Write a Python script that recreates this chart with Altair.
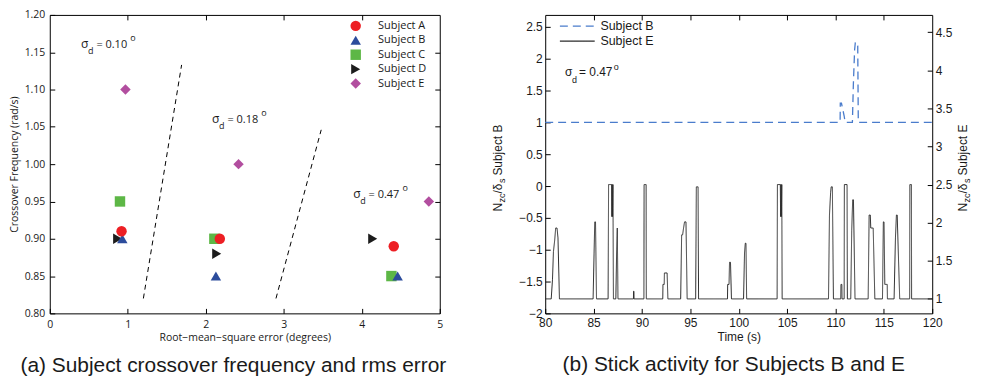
import altair as alt
import pandas as pd

# ---------------- Panel (a) data ----------------
subjects = ["Subject A", "Subject B", "Subject C", "Subject D", "Subject E"]
rms_sigma010 = [0.92, 0.93, 0.90, 0.87, 0.97]
freq_sigma010 = [0.91, 0.90, 0.95, 0.90, 1.10]
rms_sigma018 = [2.18, 2.13, 2.11, 2.14, 2.42]
freq_sigma018 = [0.90, 0.85, 0.90, 0.88, 1.00]
rms_sigma047 = [4.41, 4.46, 4.38, 4.14, 4.86]
freq_sigma047 = [0.89, 0.85, 0.85, 0.90, 0.95]

sigma_values_a = ["0.10", "0.18", "0.47"]
sigma_label_rms = [0.40, 2.08, 3.89]
sigma_label_freq = [1.156, 1.055, 0.955]

divider_ids = ["d1", "d1", "d2", "d2"]
divider_rms = [1.20, 1.69, 2.90, 3.48]
divider_freq = [0.82, 1.133, 0.82, 1.046]

x_ticks_a = [0, 1, 2, 3, 4, 5]
y_ticks_a = [0.80, 0.85, 0.90, 0.95, 1.00, 1.05, 1.10, 1.15, 1.20]

# ---------------- Panel (b) data ----------------
series_names = ["Subject B", "Subject E"]
time_B = [80.0, 110.48, 110.5, 110.62, 110.9, 111.0, 111.75, 111.85, 111.98, 112.05, 112.3, 112.36, 120.0]
nzc_B = [1.0, 1.0, 1.3, 1.3, 1.1, 1.0, 1.0, 1.6, 2.14, 2.25, 2.25, 1.0, 1.0]

time_E = [80.0,
          80.62, 80.75, 80.85, 80.98, 81.08, 81.22, 81.32, 81.47,
          84.95, 85.05, 85.12, 85.2, 85.3,
          86.5, 86.55, 86.85, 86.88, 86.92, 86.96, 87.0, 87.05,
          87.3, 87.38, 87.45, 87.52,
          89.12, 89.13, 89.17, 89.18,
          90.2, 90.22, 90.43, 90.45,
          92.15, 92.17, 92.3, 92.32, 92.6, 92.68,
          94.0, 94.1, 94.2, 94.3, 94.4, 94.55, 94.67,
          95.55, 95.62, 95.8, 95.85,
          98.84, 98.86, 99.0, 99.05, 99.15, 99.25,
          100.5, 100.6, 100.68, 100.75, 100.82,
          103.97, 104.0, 104.3, 104.33, 104.37, 104.41, 104.45, 104.49,
          109.28, 109.38, 109.5, 109.56, 109.68, 109.79,
          110.55, 110.57, 110.66, 110.68,
          110.9, 110.92, 111.2, 111.23,
          111.58, 111.68, 111.78, 111.86, 112.02,
          113.38, 113.48, 113.6, 113.65, 113.9, 114.07,
          114.86, 114.95, 115.02, 115.1, 115.35, 115.37,
          116.06, 116.2, 116.3, 116.38, 116.64,
          117.67, 117.69, 117.85, 117.87,
          120.0]
nzc_E = [1.0,
         1.0, 1.25, 1.62, 1.77, 1.93, 1.93, 1.8, 1.0,
         1.0, 1.6, 2.01, 2.01, 1.0,
         1.0, 2.5, 2.5, 2.08, 2.5, 2.08, 2.5, 1.0,
         1.0, 1.6, 1.93, 1.0,
         1.0, 1.1, 1.1, 1.0,
         1.0, 2.5, 2.5, 1.0,
         1.0, 1.19, 1.19, 1.34, 1.34, 1.0,
         1.0, 1.84, 1.84, 1.93, 2.01, 2.01, 1.0,
         1.0, 2.47, 2.47, 1.0,
         1.0, 1.19, 1.19, 1.48, 1.48, 1.0,
         1.0, 1.6, 1.73, 1.73, 1.0,
         1.0, 2.5, 2.5, 2.08, 2.5, 2.08, 2.5, 1.0,
         1.0, 2.1, 2.4, 2.47, 2.47, 1.0,
         1.0, 1.19, 1.19, 1.0,
         1.0, 2.5, 2.5, 1.0,
         1.0, 1.9, 2.3, 2.3, 1.0,
         1.0, 2.1, 2.1, 1.93, 1.93, 1.0,
         1.0, 2.01, 2.01, 1.19, 1.19, 1.0,
         1.0, 1.8, 2.1, 2.1, 1.0,
         1.0, 2.5, 2.5, 1.0,
         1.0]

sigma_b_time = [82.05]
sigma_b_val = [1.73]
sigma_values_b = ["0.47"]

x_ticks_b = [80, 85, 90, 95, 100, 105, 110, 115, 120]
yB_ticks = [-2, -1.5, -1, -0.5, 0, 0.5, 1, 1.5, 2, 2.5]
yE_ticks = [1, 1.5, 2, 2.5, 3, 3.5, 4, 4.5]

# ---------------- styling ----------------
FA = "Open Sans"
FB = "Liberation Sans"
TXT = "#1a1a1a"
subj_colors = ["#ed1f24", "#2c4c9c", "#5db746", "#1c1c1c", "#b24e9f"]
subj_shapes = ["circle", "triangle-up", "square", "triangle-right", "diamond"]
line_colors = ["#4a7ccc", "#2a2a2a"]
line_dashes = [[8, 5], [1, 0]]
H = 300


def tick_axis(orient, values):
    return alt.Axis(orient=orient, values=values, labels=False, title=None, offset=-5,
                    tickSize=5, tickColor="black", tickWidth=1, domain=False, grid=False)


# ---------------- Panel (a) ----------------
rows = []
for rl, fl in [(rms_sigma010, freq_sigma010), (rms_sigma018, freq_sigma018), (rms_sigma047, freq_sigma047)]:
    for s, r, f in zip(subjects, rl, fl):
        rows.append({"Subject": s, "rms": r, "freq": f, "k": subjects.index(s)})
pts = pd.DataFrame(rows).sort_values("k", ascending=False, kind="stable")

x_a = alt.Scale(domain=[0, 5], nice=False, zero=False)
y_a = alt.Scale(domain=[0.8, 1.2], nice=False, zero=False)

ax_a_bottom = alt.Axis(orient="bottom", values=x_ticks_a, format="d", title="Root−mean−square error (degrees)",
                       offset=-5, tickSize=5, tickColor="black", domain=False, grid=False,
                       labelFont=FA, labelFontSize=10.5, labelColor=TXT, labelPadding=6,
                       labelFlush=False, labelOverlap=False,
                       titleFont=FA, titleFontSize=10.5, titleFontWeight="normal", titleColor=TXT,
                       titlePadding=3)
ax_a_left = alt.Axis(orient="left", values=y_ticks_a, format=".2f", title="Crossover Frequency (rad/s)",
                     offset=-5, tickSize=5, tickColor="black", domain=False, grid=False,
                     labelFont=FA, labelFontSize=10.5, labelColor=TXT, labelPadding=5,
                     labelFlush=False, labelOverlap=False,
                     titleFont=FA, titleFontSize=10.5, titleFontWeight="normal", titleColor=TXT,
                     titlePadding=5)

leg_a = alt.Legend(title=None, orient="none", legendX=302, legendY=5.5, direction="vertical",
                   labelFont=FA, labelFontSize=11, labelFontWeight="normal", labelColor=TXT,
                   symbolSize=110, rowPadding=2.5, labelOffset=17, padding=0, symbolStrokeWidth=0)

points = alt.Chart(pts).mark_point(filled=True, size=110, opacity=1).encode(
    x=alt.X("rms:Q", scale=x_a, axis=ax_a_bottom),
    y=alt.Y("freq:Q", scale=y_a, axis=ax_a_left),
    color=alt.Color("Subject:N", scale=alt.Scale(domain=subjects, range=subj_colors), legend=leg_a),
    shape=alt.Shape("Subject:N", scale=alt.Scale(domain=subjects, range=subj_shapes), legend=leg_a),
)

div_df = pd.DataFrame({"line": divider_ids, "rms": divider_rms, "freq": divider_freq})
dividers = alt.Chart(div_df).mark_line(color="black", strokeWidth=1, strokeDash=[5, 4]).encode(
    x=alt.X("rms:Q", scale=x_a, axis=tick_axis("top", [1, 2, 3, 4])),
    y=alt.Y("freq:Q", scale=y_a, axis=tick_axis("right", y_ticks_a[1:-1])),
    detail="line:N",
)

ann_a = pd.DataFrame({"rms": sigma_label_rms, "freq": sigma_label_freq,
                      "val": ["= " + v for v in sigma_values_a]})
ann_a_base = alt.Chart(ann_a).encode(
    x=alt.X("rms:Q", scale=x_a, axis=None),
    y=alt.Y("freq:Q", scale=y_a, axis=None),
)
a_sig = ann_a_base.mark_text(text="σ", align="left", baseline="alphabetic", font=FA, fontSize=12, color=TXT)
a_sub = ann_a_base.mark_text(text="d", align="left", baseline="alphabetic", font=FA, fontSize=9,
                             dx=7, dy=6, color=TXT)
a_val = ann_a_base.mark_text(align="left", baseline="alphabetic", font=FA, fontSize=11,
                             dx=15.5, color=TXT).encode(text="val:N")
a_deg = ann_a_base.mark_text(text="o", align="left", baseline="alphabetic", font=FA, fontSize=9,
                             dx=49.5, dy=-7, color=TXT)

left = alt.layer(points, dividers, a_sig, a_sub, a_val, a_deg).resolve_axis(
    x="independent", y="independent"
).properties(
    width=392, height=H,
    title=alt.TitleParams(text="(a) Subject crossover frequency and rms error", orient="bottom",
                          anchor="middle", frame="group", dx=-11.5, offset=12, font=FB,
                          fontSize=21, fontWeight="normal", color=TXT),
)

# ---------------- Panel (b) ----------------
x_b = alt.Scale(domain=[80, 120], nice=False, zero=False)
yB = alt.Scale(domain=[-2, 2.6875], nice=False, zero=False)
yE = alt.Scale(domain=[0.81, 4.726], nice=False, zero=False)

df_B = pd.DataFrame({"t": time_B, "v": nzc_B, "series": series_names[0], "i": range(len(time_B))})
df_E = pd.DataFrame({"t": time_E, "v": nzc_E, "series": series_names[1], "i": range(len(time_E))})

ax_b_bottom = alt.Axis(orient="bottom", values=x_ticks_b, format="d", title="Time (s)",
                       offset=-5, tickSize=5, tickColor="black", domain=False, grid=False,
                       labelFont=FB, labelFontSize=12, labelColor=TXT, labelPadding=4,
                       labelFlush=False, labelOverlap=False,
                       titleFont=FB, titleFontSize=12, titleFontWeight="normal", titleColor=TXT,
                       titlePadding=3)
ax_b_left = alt.Axis(orient="left", values=yB_ticks, format="~g", title=None,
                     offset=-5, tickSize=5, tickColor="black", domain=False, grid=False,
                     labelFont=FB, labelFontSize=12, labelColor=TXT, labelPadding=3,
                     labelFlush=False, labelOverlap=False)
ax_b_right = alt.Axis(orient="right", values=yE_ticks, format="~g", title=None,
                      offset=-5, tickSize=5, tickColor="black", domain=False, grid=False,
                      labelFont=FB, labelFontSize=12, labelColor=TXT, labelPadding=3,
                      labelFlush=False, labelOverlap=False)

leg_b = alt.Legend(title=None, orient="none", legendX=26, legendY=5, direction="vertical",
                   symbolType="M-3.5,0H3.5", symbolSize=100, symbolStrokeWidth=1.3,
                   labelFont=FB, labelFontSize=12.5, labelFontWeight="normal", labelColor=TXT,
                   labelOffset=17, rowPadding=2, padding=0)

color_b = alt.Color("series:N", scale=alt.Scale(domain=series_names, range=line_colors), legend=leg_b)
dash_b = alt.StrokeDash("series:N", scale=alt.Scale(domain=series_names, range=line_dashes), legend=leg_b)

line_B = alt.Chart(df_B).mark_line(strokeWidth=1.3).encode(
    x=alt.X("t:Q", scale=x_b, axis=ax_b_bottom),
    y=alt.Y("v:Q", scale=yB, axis=ax_b_left),
    color=color_b, strokeDash=dash_b, order=alt.Order("i:Q"),
)
line_E = alt.Chart(df_E).mark_line(strokeWidth=1).encode(
    x=alt.X("t:Q", scale=x_b, axis=tick_axis("top", x_ticks_b[1:-1])),
    y=alt.Y("v:Q", scale=yE, axis=ax_b_right),
    color=color_b, strokeDash=dash_b, order=alt.Order("i:Q"),
)

ann_b = pd.DataFrame({"t": sigma_b_time, "v": sigma_b_val, "val": ["= " + v for v in sigma_values_b]})
ann_b_base = alt.Chart(ann_b).encode(
    x=alt.X("t:Q", scale=x_b, axis=None),
    y=alt.Y("v:Q", scale=yB, axis=None),
)
b_sig = ann_b_base.mark_text(text="σ", align="left", baseline="alphabetic", font=FB, fontSize=12, color=TXT)
b_sub = ann_b_base.mark_text(text="d", align="left", baseline="alphabetic", font=FB, fontSize=9,
                             dx=7, dy=7, color=TXT)
b_val = ann_b_base.mark_text(align="left", baseline="alphabetic", font=FB, fontSize=12,
                             dx=14, color=TXT).encode(text="val:N")
b_deg = ann_b_base.mark_text(text="o", align="left", baseline="alphabetic", font=FB, fontSize=9,
                             dx=49, dy=-6, color=TXT)

one = pd.DataFrame({"k": [0]})


def title_piece(txt, xpx, ypx, size, dx, dy):
    return alt.Chart(one).mark_text(text=txt, angle=270, align="left", baseline="alphabetic",
                                    font=FB, fontSize=size, dx=dx, dy=dy, color=TXT).encode(
        x=alt.value(xpx), y=alt.value(ypx))


def axis_title(label, xpx, ypx):
    return [
        title_piece("N", xpx, ypx, 12, 0, 0),
        title_piece("zc", xpx, ypx, 9, 9, 3),
        title_piece("/δ", xpx, ypx, 12, 18, 0),
        title_piece("s", xpx, ypx, 9, 28.5, 3),
        title_piece(label, xpx, ypx, 12, 36, 0),
    ]


right = alt.layer(
    line_B, line_E, b_sig, b_sub, b_val, b_deg,
    *axis_title("Subject B", -43, 197.5),
    *axis_title("Subject E", 424, 197.5),
).resolve_scale(y="independent").resolve_axis(x="independent", y="independent").properties(
    width=389, height=H,
    title=alt.TitleParams(text="(b) Stick activity for Subjects B and E", orient="bottom",
                          anchor="middle", frame="group", dx=-5, offset=12, font=FB,
                          fontSize=21, fontWeight="normal", color=TXT),
)

chart = alt.hconcat(left, right, spacing=44).resolve_scale(
    color="independent", shape="independent", strokeDash="independent"
).resolve_legend(
    color="independent", shape="independent", strokeDash="independent"
).configure_view(
    stroke="black", strokeWidth=1
).properties(
    padding={"left": 0, "top": 0, "right": 0, "bottom": 0}, background="white"
)

chart.save("out.html", embed_options={"renderer": "svg", "actions": False})
